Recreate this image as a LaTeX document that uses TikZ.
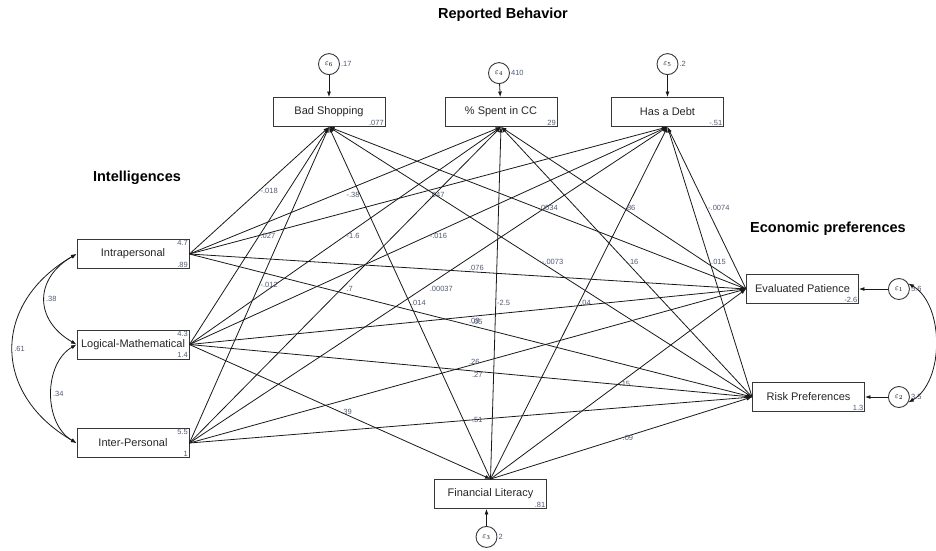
\documentclass[tikz,border=0pt]{standalone}
\usepackage{fontspec}
\setmainfont{Liberation Sans}
\usetikzlibrary{arrows.meta,
                positioning,
                quotes}
\definecolor{coefgray}{RGB}{80,90,118}
\definecolor{boxline}{RGB}{55,55,55}

\begin{document}
\begin{tikzpicture}[
x=1pt, y=-1pt,
            > = {Latex[length=5.5pt,width=4pt]},
   every edge quotes/.style = {coef},
  coef/.style = {font=\fontsize{7.5}{7.5}\selectfont, text=coefgray, anchor=west, inner sep=1pt},
  icpt/.style = {font=\fontsize{7.5}{7.5}\selectfont, text=coefgray, inner sep=1.5pt},
   box/.style = {draw=boxline, line width=0.9pt, minimum width=112pt, minimum height=29pt,
                 inner sep=1pt, font=\fontsize{11}{12}\selectfont, text=black!85},
   err/.style = {circle, draw=boxline, line width=0.9pt, minimum size=21pt, inner sep=0pt,
                 font=\fontsize{8.5}{8.5}\selectfont},
   ttl/.style = {font=\fontsize{14.5}{17}\selectfont\bfseries},
  link/.style = {->, line width=0.8pt, draw=black!90}
                    ]
\useasboundingbox (0,0) rectangle (936,550);
% titles
\node (tbeh) [ttl] at (503,15)  {Reported Behavior};
\node (tint) [ttl] at (137,178) {Intelligences};
\node (teco) [ttl] at (828,229) {Economic preferences};
% observed variables
\node (bs) [box] at (329,112)   {Bad Shopping};
\node (sp) [box] at (501,112)   {\% Spent in CC};
\node (hd) [box] at (667.5,112) {Has a Debt};
\node (i1) [box] at (133,254)   {Intrapersonal};
\node (i2) [box] at (133,344.5) {Logical-Mathematical};
\node (i3) [box] at (133,443)   {Inter-Personal};
\node (fl) [box] at (490.5,494) {Financial Literacy};
\node (ep) [box] at (802.5,289) {Evaluated Patience};
\node (rp) [box] at (808.5,397) {Risk Preferences};
% intercepts and means
\node (bsc) [icpt, anchor=south east] at (bs.south east) {.077};
\node (spc) [icpt, anchor=south east] at (sp.south east) {29};
\node (hdc) [icpt, anchor=south east] at (hd.south east) {-.51};
\node (flc) [icpt, anchor=south east] at (fl.south east) {.81};
\node (epc) [icpt, anchor=south east] at (ep.south east) {-2.6};
\node (rpc) [icpt, anchor=south east] at (rp.south east) {1.3};
\node (i1m) [icpt, anchor=north east] at (i1.north east) {4.7};
\node (i1v) [icpt, anchor=south east] at (i1.south east) {.89};
\node (i2m) [icpt, anchor=north east] at (i2.north east) {4.3};
\node (i2v) [icpt, anchor=south east] at (i2.south east) {1.4};
\node (i3m) [icpt, anchor=north east] at (i3.north east) {5.5};
\node (i3v) [icpt, anchor=south east] at (i3.south east) {1};
% error terms
\node (e6) [err, above=22pt of bs] {$\varepsilon_{6}$};
\node (e4) [err, above=13pt of sp, xshift=-2pt] {$\varepsilon_{4}$};
\node (e5) [err, above=22pt of hd] {$\varepsilon_{5}$};
\node (e3) [err, below=17pt of fl, xshift=-4pt] {$\varepsilon_{3}$};
\node (e1) [err, right=29pt of ep] {$\varepsilon_{1}$};
\node (e2) [err, right=23pt of rp] {$\varepsilon_{2}$};
\node (e6v) [coef] at (e6.east) {.17};
\node (e4v) [coef] at (e4.east) {410};
\node (e5v) [coef] at (e5.east) {.2};
\node (e3v) [coef] at (e3.east) {2};
\node (e1v) [coef] at (e1.east) {5.6};
\node (e2v) [coef] at (e2.east) {3.5};
%
\draw[link] (e6) -- (bs);
\draw[link] (e4) -- (sp);
\draw[link] (e5) -- (hd);
\draw[link] (e3.north) -- (e3.north |- fl.south);
\draw[link] (e1) -- (ep);
\draw[link] (e2) -- (rp);
% intelligences
\draw[link] (i1.east) to ["-.018"] (bs.south);
\draw[link] (i1.east) to node[coef, anchor=north west] {-.38} (sp.south);
\draw[link] (i1.east) to node[coef, anchor=north west] {.047} (hd.south);
\draw[link] (i1.east) to node[coef, anchor=south west] {.076} (ep.west);
\draw[link] (i1.east) to node[coef, anchor=south west] {.05} (rp.west);
\draw[link] (i2.east) to [".027"] (bs.south);
\draw[link] (i2.east) to ["-1.6"] (sp.south);
\draw[link] (i2.east) to ["-.016"] (hd.south);
\draw[link] (i2.east) to node[coef, anchor=north west] {.08} (ep.west);
\draw[link] (i2.east) to node[coef, anchor=north west] {.27} (rp.west);
\draw[link] (i2.east) to [".39"] (fl.north);
\draw[link] (i3.east) to ["-.012"] (bs.south);
\draw[link] (i3.east) to node[coef, anchor=north west] {.7} (sp.south);
\draw[link] (i3.east) to node[coef, anchor=north west] {.00037} (hd.south);
\draw[link] (i3.east) to node[coef, anchor=south west] {.26} (ep.west);
\draw[link] (i3.east) to [".51"] (rp.west);
% financial literacy
\draw[link] (fl.north) to [".014"] (bs.south);
\draw[link] (fl.north) to ["-2.5"] (sp.south);
\draw[link] (fl.north) to [".04"] (hd.south);
\draw[link] (fl.north) to [".15"] (ep.west);
\draw[link] (fl.north) to [".09"] (rp.west);
% economic preferences
\draw[link] (ep.west) to [".0034"] (bs.south);
\draw[link] (ep.west) to [".86"] (sp.south);
\draw[link] (ep.west) to ["-.0074"] (hd.south);
\draw[link] (rp.west) to ["-.0073"] (bs.south);
\draw[link] (rp.west) to [".16"] (sp.south);
\draw[link] (rp.west) to [".015"] (hd.south);
% covariances
\draw[link, <->] (i1.west) to [bend right=60, looseness=1.39] node[coef] {.38} (i2.west);
\draw[link, <->] (i2.west) to [bend right=60, looseness=1.0]  node[coef] {.34} (i3.west);
\draw[link, <->] (i1.west) to [bend right=60, looseness=1.33] node[coef] {.61} (i3.west);
\draw[link, <->] (e1.30) to [bend left=60, looseness=0.9] (e2.-30);
\end{tikzpicture}
\end{document}
